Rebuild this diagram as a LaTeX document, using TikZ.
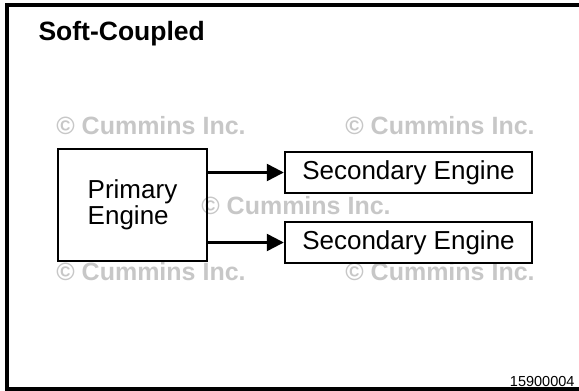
\documentclass[tikz,border=0pt]{standalone}
\usepackage{fontspec}
\setmainfont{Liberation Sans}
\usetikzlibrary{arrows.meta}

\begin{document}
\begin{tikzpicture}[x=1pt, y=-1pt, font=\fontsize{26}{28}\selectfont,
        box/.style={draw, line width=2.4pt, inner sep=0pt},
        feed/.style={line width=2.4pt, -{Triangle[length=17pt, width=17pt]}},
        wmark/.style={text=black!22, font=\bfseries\fontsize{25}{28}\selectfont}]
        \useasboundingbox (0,0) rectangle (579,391);
        \draw[line width=4pt] (585,5) -- (7,5) -- (7,389) -- (585,389);
        \node[anchor=base west, font=\bfseries\fontsize{26.5}{28}\selectfont] (title) at (35,40) {Soft-Coupled};
        \foreach \x/\y [count=\i] in {151/126, 440/126, 296/206, 151/272, 440/272} \node[wmark] (wm\i) at (\x,\y) {© Cummins Inc.};
        \node[box, minimum width=149pt, minimum height=112pt, align=left, font=\fontsize{26}{26}\selectfont] (primary) at (132.5,205) {Primary\\Engine};
        \node[box, minimum width=247pt, minimum height=41pt] (sec1) at (408.5,172.5) {Secondary Engine};
        \node[box, minimum width=247pt, minimum height=41pt] (sec2) at (408.5,242.5) {Secondary Engine};
        \draw[feed] (primary.east |- sec1) -- (sec1);
        \draw[feed] (primary.east |- sec2) -- (sec2);
        \node[anchor=base east, font=\fontsize{14.5}{16}\selectfont] (figid) at (578,386) {15900004};
    \end{tikzpicture}
\end{document}
